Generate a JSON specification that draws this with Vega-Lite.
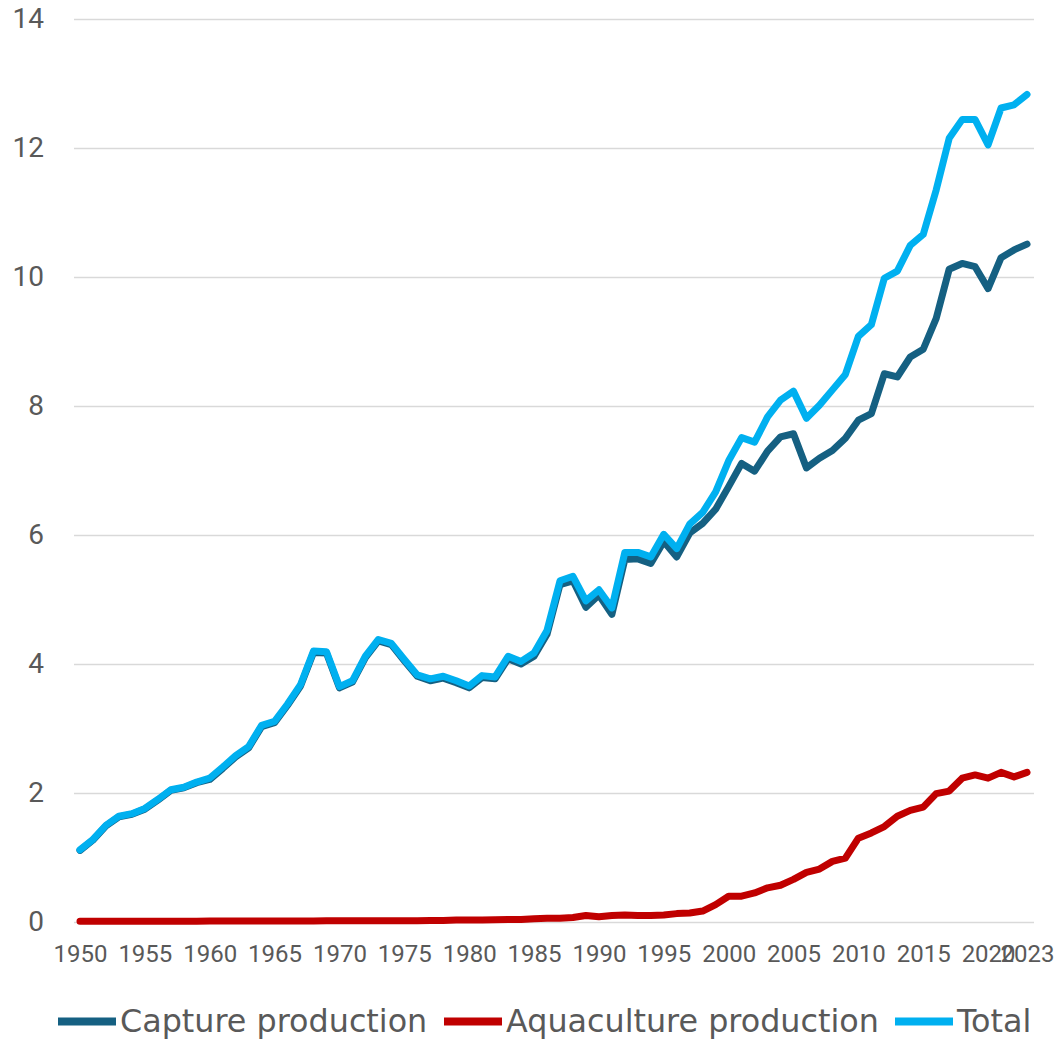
{
  "$schema": "https://vega.github.io/schema/vega-lite/v6.json",
  "autosize": "none",
  "width": 960,
  "height": 903,
  "padding": {"left": 73.5, "top": 19, "right": 22.5, "bottom": 117},
  "background": "white",
  "config": {
    "view": {"stroke": null},
    "font": "Roboto"
  },
  "data": {
    "values": [
      {"year": 1950, "Capture production": 1.11, "Aquaculture production": 0.01, "Total": 1.12},
      {"year": 1951, "Capture production": 1.27, "Aquaculture production": 0.01, "Total": 1.28},
      {"year": 1952, "Capture production": 1.49, "Aquaculture production": 0.01, "Total": 1.50},
      {"year": 1953, "Capture production": 1.63, "Aquaculture production": 0.01, "Total": 1.64},
      {"year": 1954, "Capture production": 1.67, "Aquaculture production": 0.01, "Total": 1.68},
      {"year": 1955, "Capture production": 1.75, "Aquaculture production": 0.01, "Total": 1.76},
      {"year": 1956, "Capture production": 1.89, "Aquaculture production": 0.01, "Total": 1.90},
      {"year": 1957, "Capture production": 2.04, "Aquaculture production": 0.01, "Total": 2.05},
      {"year": 1958, "Capture production": 2.08, "Aquaculture production": 0.01, "Total": 2.09},
      {"year": 1959, "Capture production": 2.16, "Aquaculture production": 0.01, "Total": 2.17},
      {"year": 1960, "Capture production": 2.21, "Aquaculture production": 0.015, "Total": 2.23},
      {"year": 1961, "Capture production": 2.38, "Aquaculture production": 0.015, "Total": 2.40},
      {"year": 1962, "Capture production": 2.56, "Aquaculture production": 0.015, "Total": 2.58},
      {"year": 1963, "Capture production": 2.70, "Aquaculture production": 0.015, "Total": 2.72},
      {"year": 1964, "Capture production": 3.03, "Aquaculture production": 0.015, "Total": 3.05},
      {"year": 1965, "Capture production": 3.09, "Aquaculture production": 0.015, "Total": 3.11},
      {"year": 1966, "Capture production": 3.36, "Aquaculture production": 0.015, "Total": 3.38},
      {"year": 1967, "Capture production": 3.66, "Aquaculture production": 0.015, "Total": 3.68},
      {"year": 1968, "Capture production": 4.18, "Aquaculture production": 0.015, "Total": 4.20},
      {"year": 1969, "Capture production": 4.17, "Aquaculture production": 0.02, "Total": 4.19},
      {"year": 1970, "Capture production": 3.63, "Aquaculture production": 0.02, "Total": 3.65},
      {"year": 1971, "Capture production": 3.72, "Aquaculture production": 0.02, "Total": 3.74},
      {"year": 1972, "Capture production": 4.10, "Aquaculture production": 0.02, "Total": 4.12},
      {"year": 1973, "Capture production": 4.36, "Aquaculture production": 0.02, "Total": 4.38},
      {"year": 1974, "Capture production": 4.30, "Aquaculture production": 0.02, "Total": 4.32},
      {"year": 1975, "Capture production": 4.05, "Aquaculture production": 0.02, "Total": 4.07},
      {"year": 1976, "Capture production": 3.81, "Aquaculture production": 0.02, "Total": 3.83},
      {"year": 1977, "Capture production": 3.74, "Aquaculture production": 0.025, "Total": 3.77},
      {"year": 1978, "Capture production": 3.78, "Aquaculture production": 0.025, "Total": 3.81},
      {"year": 1979, "Capture production": 3.71, "Aquaculture production": 0.03, "Total": 3.74},
      {"year": 1980, "Capture production": 3.63, "Aquaculture production": 0.03, "Total": 3.66},
      {"year": 1981, "Capture production": 3.79, "Aquaculture production": 0.03, "Total": 3.82},
      {"year": 1982, "Capture production": 3.77, "Aquaculture production": 0.035, "Total": 3.80},
      {"year": 1983, "Capture production": 4.08, "Aquaculture production": 0.04, "Total": 4.12},
      {"year": 1984, "Capture production": 4.00, "Aquaculture production": 0.04, "Total": 4.04},
      {"year": 1985, "Capture production": 4.12, "Aquaculture production": 0.05, "Total": 4.17},
      {"year": 1986, "Capture production": 4.46, "Aquaculture production": 0.06, "Total": 4.52},
      {"year": 1987, "Capture production": 5.23, "Aquaculture production": 0.06, "Total": 5.29},
      {"year": 1988, "Capture production": 5.29, "Aquaculture production": 0.07, "Total": 5.36},
      {"year": 1989, "Capture production": 4.88, "Aquaculture production": 0.10, "Total": 4.98},
      {"year": 1990, "Capture production": 5.07, "Aquaculture production": 0.08, "Total": 5.15},
      {"year": 1991, "Capture production": 4.77, "Aquaculture production": 0.10, "Total": 4.87},
      {"year": 1992, "Capture production": 5.62, "Aquaculture production": 0.11, "Total": 5.73},
      {"year": 1993, "Capture production": 5.63, "Aquaculture production": 0.10, "Total": 5.73},
      {"year": 1994, "Capture production": 5.56, "Aquaculture production": 0.10, "Total": 5.66},
      {"year": 1995, "Capture production": 5.90, "Aquaculture production": 0.11, "Total": 6.01},
      {"year": 1996, "Capture production": 5.66, "Aquaculture production": 0.13, "Total": 5.79},
      {"year": 1997, "Capture production": 6.03, "Aquaculture production": 0.14, "Total": 6.17},
      {"year": 1998, "Capture production": 6.18, "Aquaculture production": 0.17, "Total": 6.35},
      {"year": 1999, "Capture production": 6.40, "Aquaculture production": 0.27, "Total": 6.67},
      {"year": 2000, "Capture production": 6.75, "Aquaculture production": 0.40, "Total": 7.15},
      {"year": 2001, "Capture production": 7.11, "Aquaculture production": 0.40, "Total": 7.51},
      {"year": 2002, "Capture production": 6.99, "Aquaculture production": 0.45, "Total": 7.44},
      {"year": 2003, "Capture production": 7.30, "Aquaculture production": 0.53, "Total": 7.83},
      {"year": 2004, "Capture production": 7.52, "Aquaculture production": 0.57, "Total": 8.09},
      {"year": 2005, "Capture production": 7.57, "Aquaculture production": 0.66, "Total": 8.23},
      {"year": 2006, "Capture production": 7.04, "Aquaculture production": 0.77, "Total": 7.81},
      {"year": 2007, "Capture production": 7.19, "Aquaculture production": 0.82, "Total": 8.01},
      {"year": 2008, "Capture production": 7.31, "Aquaculture production": 0.94, "Total": 8.25},
      {"year": 2009, "Capture production": 7.50, "Aquaculture production": 0.99, "Total": 8.49},
      {"year": 2010, "Capture production": 7.78, "Aquaculture production": 1.30, "Total": 9.08},
      {"year": 2011, "Capture production": 7.88, "Aquaculture production": 1.38, "Total": 9.26},
      {"year": 2012, "Capture production": 8.50, "Aquaculture production": 1.48, "Total": 9.98},
      {"year": 2013, "Capture production": 8.45, "Aquaculture production": 1.64, "Total": 10.09},
      {"year": 2014, "Capture production": 8.76, "Aquaculture production": 1.73, "Total": 10.49},
      {"year": 2015, "Capture production": 8.88, "Aquaculture production": 1.78, "Total": 10.66},
      {"year": 2016, "Capture production": 9.36, "Aquaculture production": 1.99, "Total": 11.35},
      {"year": 2017, "Capture production": 10.12, "Aquaculture production": 2.03, "Total": 12.15},
      {"year": 2018, "Capture production": 10.21, "Aquaculture production": 2.23, "Total": 12.44},
      {"year": 2019, "Capture production": 10.16, "Aquaculture production": 2.28, "Total": 12.44},
      {"year": 2020, "Capture production": 9.82, "Aquaculture production": 2.23, "Total": 12.05},
      {"year": 2021, "Capture production": 10.30, "Aquaculture production": 2.32, "Total": 12.62},
      {"year": 2022, "Capture production": 10.42, "Aquaculture production": 2.25, "Total": 12.67},
      {"year": 2023, "Capture production": 10.51, "Aquaculture production": 2.32, "Total": 12.83}
    ]
  },
  "transform": [
    {"fold": ["Capture production", "Aquaculture production", "Total"], "as": ["series", "value"]}
  ],
  "mark": {"type": "line", "strokeWidth": 7, "strokeCap": "round", "strokeJoin": "round"},
  "encoding": {
    "x": {
      "field": "year",
      "type": "quantitative",
      "scale": {"domain": [1949.5, 2023.5], "nice": false, "zero": false},
      "axis": {
        "title": null,
        "values": [1950, 1955, 1960, 1965, 1970, 1975, 1980, 1985, 1990, 1995, 2000, 2005, 2010, 2015, 2020, 2023],
        "format": "d",
        "grid": false,
        "domain": false,
        "ticks": false,
        "labelOverlap": false,
        "labelFlush": false,
        "labelFontSize": 24,
        "labelColor": "#595959",
        "labelPadding": 20
      }
    },
    "y": {
      "field": "value",
      "type": "quantitative",
      "scale": {"domain": [0, 14], "nice": false},
      "axis": {
        "title": null,
        "values": [0, 2, 4, 6, 8, 10, 12, 14],
        "grid": true,
        "gridColor": "#d9d9d9",
        "gridWidth": 1.5,
        "domain": false,
        "ticks": false,
        "labelFontSize": 28,
        "labelColor": "#595959",
        "labelPadding": 30
      }
    },
    "color": {
      "field": "series",
      "type": "nominal",
      "sort": ["Capture production", "Aquaculture production", "Total"],
      "scale": {
        "domain": ["Capture production", "Aquaculture production", "Total"],
        "range": ["#156082", "#C00000", "#00B0F0"]
      },
      "legend": {
        "title": null,
        "orient": "none",
        "direction": "horizontal",
        "legendX": -19.5,
        "legendY": 969.5,
        "symbolType": "stroke",
        "symbolSize": 3364,
        "symbolStrokeWidth": 8,
        "labelFont": "DejaVu Sans",
        "labelFontSize": 31.8,
        "labelColor": "#595959",
        "labelOffset": 0,
        "columnPadding": 0,
        "labelLimit": 600
      }
    }
  }
}
